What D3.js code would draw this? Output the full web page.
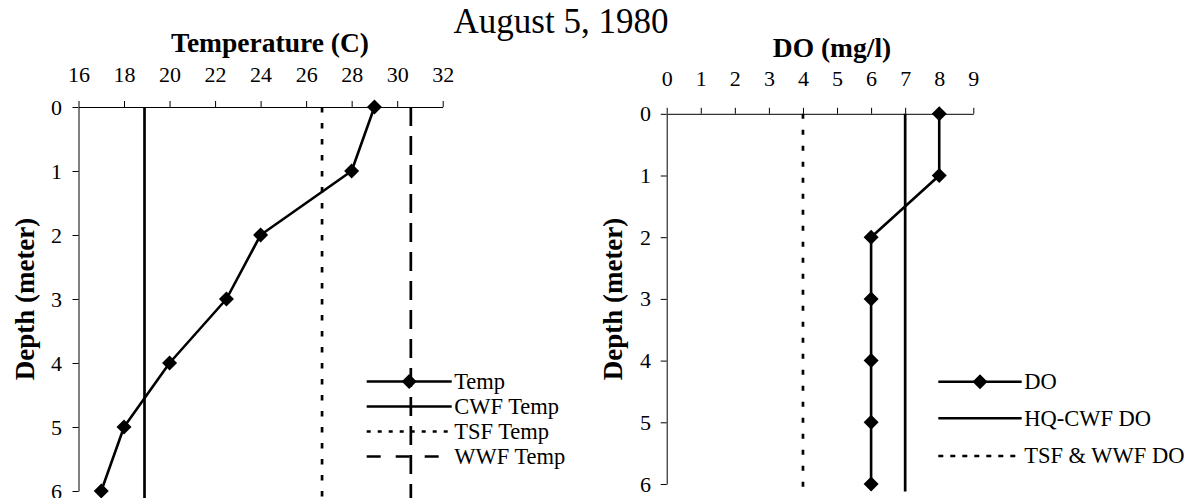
<!DOCTYPE html>
<html>
<head>
<meta charset="utf-8">
<script src="https://cdn.jsdelivr.net/npm/d3@7"></script>
<style>
  html, body { margin: 0; padding: 0; background: #fff; }
  svg { display: block; font-family: "Liberation Serif", "Times New Roman", serif; }
</style>
</head>
<body>
<svg id="chart" width="1189" height="498"></svg>
<script>
// Depth profile, August 5, 1980
const depths = [0, 1, 2, 3, 4, 5, 6];
const tempValues = [29, 28, 24, 22.5, 20, 18, 17];
const doValues = [8, 8, 6, 6, 6, 6, 6];

const tempTicks = [16, 18, 20, 22, 24, 26, 28, 30, 32];
const doTicks = [0, 1, 2, 3, 4, 5, 6, 7, 8, 9];
const depthTicks = [0, 1, 2, 3, 4, 5, 6];

// Criteria lines
const cwfTemp = 18.9;
const tsfTemp = 26.7;
const wwfTemp = 30.6;
const hqCwfDO = 7;
const tsfWwfDO = 4;
const criteriaDepthSpan = [0, 6.12];

const svg = d3.select("#chart");

svg.append("text")
  .attr("x", 561).attr("y", 33)
  .attr("text-anchor", "middle")
  .style("font-size", "35px")
  .text("August 5, 1980");

function diamondPath(cx, cy, r) {
  return `M${cx},${cy - r}L${cx + r},${cy}L${cx},${cy + r}L${cx - r},${cy}Z`;
}

function panel(cfg) {
  const g = svg.append("g");
  const x = d3.scaleLinear().domain(cfg.xDomain).range(cfg.xRange);
  const y = d3.scaleLinear().domain([0, 6]).range(cfg.yRange);

  // criteria lines (drawn first, under the profile)
  cfg.refs.forEach(r => {
    g.append("line")
      .attr("x1", x(r.value)).attr("x2", x(r.value))
      .attr("y1", y(criteriaDepthSpan[0])).attr("y2", y(criteriaDepthSpan[1]))
      .attr("stroke", "#000").attr("stroke-width", 2.7)
      .attr("stroke-dasharray", r.dash || null);
  });

  const xAxis = d3.axisTop(x).tickValues(cfg.xTicks).tickFormat(d3.format("d"))
    .tickSize(6).tickSizeOuter(0).tickPadding(cfg.xPad);
  const yAxis = d3.axisLeft(y).tickValues(depthTicks).tickFormat(d3.format("d"))
    .tickSize(6).tickSizeOuter(0).tickPadding(cfg.yPad);

  const gx = g.append("g").attr("transform", `translate(0,${cfg.yRange[0]})`).call(xAxis);
  const gy = g.append("g").attr("transform", `translate(${cfg.xRange[0]},0)`).call(yAxis);
  [gx, gy].forEach(a => {
    a.attr("font-size", null).attr("font-family", null);
    a.selectAll("path, line").attr("stroke", "#000").attr("stroke-width", 1);
    a.selectAll("text").attr("fill", "#000").style("font-size", "22px");
  });

  // profile line with diamond markers
  const pts = depths.map((d, i) => [x(cfg.values[i]), y(d)]);
  g.append("path")
    .attr("d", d3.line()(pts))
    .attr("fill", "none").attr("stroke", "#000").attr("stroke-width", 2.6)
    .attr("stroke-linejoin", "round");
  g.selectAll("path.mk").data(pts).enter().append("path")
    .attr("class", "mk")
    .attr("d", p => diamondPath(p[0], p[1], 7.5))
    .attr("fill", "#000");

  // axis titles
  g.append("text")
    .attr("x", cfg.titleX).attr("y", cfg.titleY)
    .attr("text-anchor", "middle")
    .style("font-size", "27.5px").style("font-weight", "bold")
    .text(cfg.title);
  g.append("text")
    .attr("transform", `translate(${cfg.depthLabelX},299) rotate(-90)`)
    .attr("text-anchor", "middle")
    .style("font-size", "27px").style("font-weight", "bold")
    .text("Depth (meter)");

  // legend
  const lg = g.append("g");
  cfg.legend.forEach((item, i) => {
    const ly = cfg.legendRows[i];
    lg.append("line")
      .attr("x1", cfg.legendX[0]).attr("x2", cfg.legendX[1])
      .attr("y1", ly).attr("y2", ly)
      .attr("stroke", "#000").attr("stroke-width", item.width || 2.6)
      .attr("stroke-dasharray", item.dash || null);
    if (item.marker) {
      lg.append("path")
        .attr("d", diamondPath((cfg.legendX[0] + cfg.legendX[1]) / 2, ly, 7.5))
        .attr("fill", "#000");
    }
    lg.append("text")
      .attr("x", cfg.legendX[1] + 2.5).attr("y", ly).attr("dy", "0.32em")
      .style("font-size", "22.5px")
      .text(item.label);
  });
}

panel({
  xDomain: [16, 32], xRange: [78.5, 442.7], yRange: [107, 491],
  xTicks: tempTicks, xPad: 19, yPad: 10.5,
  values: tempValues,
  refs: [
    { value: cwfTemp },
    { value: tsfTemp, dash: "5.5 10.5" },
    { value: wwfTemp, dash: "19 10" }
  ],
  title: "Temperature (C)", titleX: 270, titleY: 52,
  depthLabelX: 33.5,
  legendX: [366.7, 451.7], legendRows: [381.5, 406.5, 431.5, 456.5],
  legend: [
    { label: "Temp", marker: true },
    { label: "CWF Temp" },
    { label: "TSF Temp", dash: "4 7", width: 2.4 },
    { label: "WWF Temp", dash: "14 15" }
  ]
});

panel({
  xDomain: [0, 9], xRange: [666.7, 973.3], yRange: [113.8, 484],
  xTicks: doTicks, xPad: 22, yPad: 9.7,
  values: doValues,
  refs: [
    { value: hqCwfDO },
    { value: tsfWwfDO, dash: "5 11" }
  ],
  title: "DO (mg/l)", titleX: 832, titleY: 57,
  depthLabelX: 621.7,
  legendX: [938.3, 1021.7], legendRows: [381.7, 418.3, 456],
  legend: [
    { label: "DO", marker: true },
    { label: "HQ-CWF DO" },
    { label: "TSF & WWF DO", dash: "5 7", width: 2.4 }
  ]
});
</script>
</body>
</html>
